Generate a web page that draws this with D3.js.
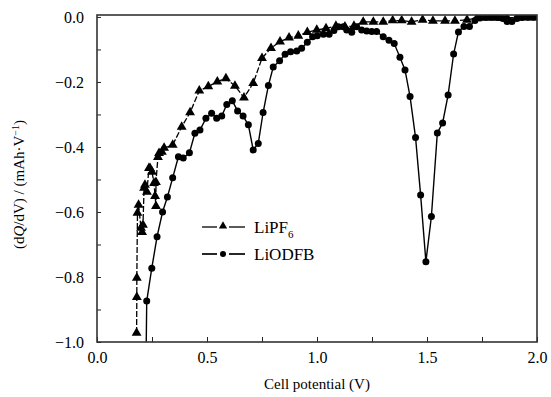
<!DOCTYPE html>
<html lang="en">
  <head>
    <meta charset="utf-8">
    <script src="https://d3js.org/d3.v7.min.js"></script>
    <style>
    body { margin: 0; background: #fff; }
    svg text { font-family: "Liberation Serif", "Times New Roman", Times, serif !important; fill: #000; }
    </style>
    <title>dQ/dV</title>
  </head>
  <body>
    <script>
// LiPF6 (triangles): cell potential (V), dQ/dV (mAh/V)
var pf6X = [0.180, 0.181, 0.181, 0.184, 0.189, 0.200, 0.205, 0.209, 0.214, 0.218,
            0.227, 0.236, 0.241, 0.250, 0.259, 0.264, 0.268, 0.268, 0.277, 0.282,
            0.295, 0.305, 0.344, 0.385, 0.423, 0.465, 0.506, 0.547, 0.586, 0.627,
            0.668, 0.710, 0.750, 0.791, 0.832, 0.873, 0.915, 0.956, 0.999, 1.041,
            1.086, 1.127, 1.168, 1.210, 1.256, 1.301, 1.344, 1.385, 1.430, 1.480,
            1.527, 1.582, 1.627, 1.682, 1.727, 1.773, 1.818, 1.864, 1.909, 1.955, 1.995];
var pf6Y = [-0.972, -0.862, -0.803, -0.603, -0.578, -0.649, -0.662, -0.640, -0.526, -0.517,
            -0.538, -0.465, -0.465, -0.477, -0.511, -0.551, -0.582, -0.508, -0.431, -0.419,
            -0.415, -0.403, -0.394, -0.338, -0.294, -0.227, -0.214, -0.199, -0.189, -0.212,
            -0.248, -0.204, -0.127, -0.096, -0.076, -0.064, -0.058, -0.047, -0.040, -0.035,
            -0.028, -0.030, -0.028, -0.015, -0.015, -0.015, -0.011, -0.011, -0.015, -0.009,
            -0.012, -0.012, -0.012, -0.009, -0.003, -0.003, -0.003, -0.002, -0.002, -0.002, -0.002];

// LiODFB (circles)
var odfbX = [0.223, 0.226, 0.249, 0.273, 0.298, 0.320, 0.344, 0.370, 0.392, 0.420,
             0.445, 0.468, 0.495, 0.521, 0.544, 0.567, 0.590, 0.615, 0.639, 0.664,
             0.688, 0.710, 0.733, 0.755, 0.779, 0.801, 0.830, 0.855, 0.880, 0.908,
             0.930, 0.956, 0.980, 1.001, 1.029, 1.055, 1.077, 1.097, 1.120, 1.135,
             1.158, 1.180, 1.203, 1.226, 1.249, 1.271, 1.301, 1.327, 1.351, 1.377,
             1.400, 1.423, 1.448, 1.471, 1.495, 1.520, 1.547, 1.571, 1.596, 1.621,
             1.643, 1.668, 1.693, 1.718, 1.741, 1.768, 1.795, 1.823, 1.845, 1.864,
             1.886, 1.909, 1.932, 1.959, 1.986];
var odfbY = [-1.055, -0.874, -0.773, -0.676, -0.600, -0.554, -0.495, -0.430, -0.434, -0.418,
             -0.358, -0.348, -0.312, -0.296, -0.312, -0.305, -0.269, -0.258, -0.289, -0.305,
             -0.332, -0.409, -0.389, -0.294, -0.211, -0.154, -0.135, -0.115, -0.107, -0.105,
             -0.096, -0.078, -0.061, -0.058, -0.053, -0.053, -0.042, -0.030, -0.030, -0.040,
             -0.047, -0.030, -0.040, -0.043, -0.045, -0.045, -0.061, -0.072, -0.082, -0.124,
             -0.163, -0.245, -0.371, -0.548, -0.753, -0.614, -0.357, -0.326, -0.240, -0.114,
             -0.046, -0.029, -0.029, -0.011, -0.003, -0.001, -0.001, -0.002, -0.005, -0.014,
             -0.014, -0.005, -0.002, -0.001, -0.001];

var xTicks = [0, 0.5, 1.0, 1.5, 2.0];
var yTicks = [0, -0.2, -0.4, -0.6, -0.8, -1.0];
var seriesNames = ["LiPF", "LiODFB"];

var w = 551, h = 397;
var mLeft = 97, mRight = 537, mTop = 15, mBottom = 342;
var serif = "'Liberation Serif', 'Times New Roman', Times, serif";

var svg = d3.select("body").append("svg")
            .attr("width", w)
            .attr("height", h)
            .attr("font-family", serif);

var x = d3.scaleLinear().domain([0, 2]).range([mLeft, mRight]);
var y = d3.scaleLinear().domain([-1, 0.006]).range([mBottom, mTop]);

var fmt = function(v) { return d3.format(".1f")(v).replace("-", "\u2212"); };

// bottom axis, ticks pointing inward
svg.append("g")
   .attr("transform", "translate(0," + mBottom + ")")
   .call(d3.axisBottom(x).tickValues(d3.range(0, 2.01, 0.25))
           .tickSizeInner(-5).tickSizeOuter(0).tickPadding(9)
           .tickFormat(function(d) { return xTicks.indexOf(+d.toFixed(2)) >= 0 ? fmt(d) : ""; }))
   .call(function(g) {
     g.attr("font-family", serif);
     g.select(".domain").remove();
     g.selectAll(".tick line").attr("stroke", "#222");
     g.selectAll("text").style("font-size", "16px").attr("y", 9).attr("dy", "0.75em");
   });

// left axis
svg.append("g")
   .attr("transform", "translate(" + mLeft + ",0)")
   .call(d3.axisLeft(y).tickValues(d3.range(0, 11).map(function(i) { return -i / 10; }))
           .tickSizeInner(-4).tickSizeOuter(0).tickPadding(13)
           .tickFormat(function(d) { return yTicks.indexOf(+d.toFixed(1)) >= 0 ? fmt(d) : ""; }))
   .call(function(g) {
     g.attr("font-family", serif);
     g.select(".domain").remove();
     g.selectAll(".tick line").attr("stroke", "#222");
     g.selectAll("text").style("font-size", "16px").attr("x", -13);
   });

// clip region for data
svg.append("clipPath").attr("id", "clip")
   .append("rect").attr("x", mLeft).attr("y", mTop).attr("width", mRight - mLeft).attr("height", mBottom - mTop);

var plot = svg.append("g").attr("clip-path", "url(#clip)");

function pts(xs, ys) { return xs.map(function(v, i) { return [v, ys[i]]; }); }

var line = d3.line().x(function(d) { return x(d[0]); }).y(function(d) { return y(d[1]); });

var pf6 = pts(pf6X, pf6Y);
var odfb = pts(odfbX, odfbY);

plot.append("path").datum(pf6)
    .attr("d", line).attr("fill", "none")
    .attr("stroke", "#000").attr("stroke-width", 1.3)
    .attr("stroke-dasharray", "6,2");

plot.append("path").datum(odfb)
    .attr("d", line).attr("fill", "none")
    .attr("stroke", "#000").attr("stroke-width", 1.4);

var tri = d3.symbol().type(d3.symbolTriangle).size(42);

plot.selectAll(".tri").data(pf6).enter().append("path")
    .attr("class", "tri")
    .attr("d", tri)
    .attr("transform", function(d) { return "translate(" + x(d[0]) + "," + y(d[1]) + ")"; })
    .attr("fill", "#000");

plot.selectAll(".dot").data(odfb).enter().append("circle")
    .attr("class", "dot")
    .attr("cx", function(d) { return x(d[0]); })
    .attr("cy", function(d) { return y(d[1]); })
    .attr("r", 3.5)
    .attr("fill", "#000");

// frame
svg.append("rect")
   .attr("x", mLeft).attr("y", mTop)
   .attr("width", mRight - mLeft).attr("height", mBottom - mTop)
   .attr("fill", "none").attr("stroke", "#333").attr("stroke-width", 1.6);

// legend: a dash each side of the marker
var leg = svg.append("g");
[[202, 217], [229, 245]].forEach(function(s) {
  leg.append("line").attr("x1", s[0]).attr("x2", s[1]).attr("y1", 227).attr("y2", 227)
     .attr("stroke", "#000").attr("stroke-width", 1.3);
  leg.append("line").attr("x1", s[0]).attr("x2", s[1]).attr("y1", 254).attr("y2", 254)
     .attr("stroke", "#000").attr("stroke-width", 1.7);
});
leg.append("path").attr("d", d3.symbol().type(d3.symbolTriangle).size(30))
   .attr("transform", "translate(223,226)").attr("fill", "#000");
leg.append("text").attr("x", 254).attr("y", 233).style("font-size", "17px")
   .text(seriesNames[0])
   .append("tspan").attr("dy", 5).style("font-size", "11px").text("6");

leg.append("circle").attr("cx", 223).attr("cy", 254).attr("r", 3).attr("fill", "#000");
leg.append("text").attr("x", 254).attr("y", 260).style("font-size", "17px").text(seriesNames[1]);

// axis titles
svg.append("text")
   .attr("x", (mLeft + mRight) / 2).attr("y", 389)
   .attr("text-anchor", "middle").style("font-size", "15px")
   .text("Cell potential (V)");

var yt = svg.append("text")
   .attr("transform", "translate(24," + ((mTop + mBottom) / 2 + 6) + ") rotate(-90)")
   .attr("text-anchor", "middle").style("font-size", "15px");
yt.append("tspan").text("(d");
yt.append("tspan").style("font-style", "italic").text("Q");
yt.append("tspan").text("/dV) / (mAh\u00b7V");
yt.append("tspan").attr("dy", -5).style("font-size", "10px").text("\u22121");
yt.append("tspan").attr("dy", 5).text(")");
    </script>
  </body>
</html>
